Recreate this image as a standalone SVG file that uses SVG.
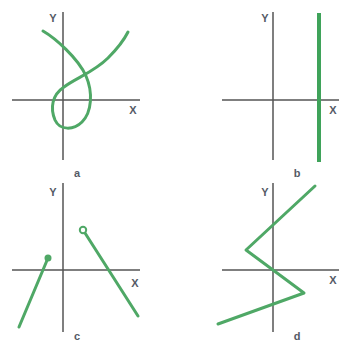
<svg xmlns="http://www.w3.org/2000/svg" width="339" height="341" viewBox="0 0 339 341">
<style>
.ax{stroke:#555;stroke-width:1.5;fill:none}
.g{stroke:#4fa866;stroke-width:3;fill:none;stroke-linecap:round;stroke-linejoin:round}
.t{font-family:"Liberation Sans",Arial,sans-serif;font-weight:bold;font-size:11px;fill:#555a66;text-anchor:middle}
</style>
<rect width="339" height="341" fill="#fff"/>
<g id="panel-a">
<line class="ax" x1="63" y1="12" x2="63" y2="160"/>
<line class="ax" x1="12" y1="100" x2="140" y2="100"/>
<text class="t" x="53" y="22">Y</text>
<text class="t" x="133" y="114">X</text>
<text class="t" x="77" y="177">a</text>
<path class="g" d="M43,31 C55,38 78,58 86,76 C93,92 92,112 82,122 C74,130 60,131 55,120 C50,108 52,95 64,87 C76,78 94,72 108,58 C118,48 124,40 128,32"/>
</g>
<g id="panel-b">
<line class="ax" x1="273" y1="12" x2="273" y2="160"/>
<line class="ax" x1="222" y1="100" x2="339" y2="100"/>
<text class="t" x="333" y="114">X</text>
<text class="t" x="265" y="22">Y</text>
<text class="t" x="297" y="177">b</text>
<line x1="319" y1="13" x2="319" y2="162" stroke="#3fa35a" stroke-width="4"/>
</g>
<g id="panel-c">
<line class="ax" x1="63" y1="183" x2="63" y2="332"/>
<line class="ax" x1="12" y1="270" x2="140" y2="270"/>
<text class="t" x="53" y="196">Y</text>
<text class="t" x="135" y="287">X</text>
<text class="t" x="77" y="340">c</text>
<line class="g" x1="48" y1="258" x2="19" y2="327"/>
<circle cx="48" cy="258" r="3.5" fill="#4fa866"/>
<line class="g" x1="85" y1="233" x2="138" y2="316"/>
<circle cx="83" cy="230" r="3.2" fill="#fff" stroke="#4fa866" stroke-width="2"/>
</g>
<g id="panel-d">
<line class="ax" x1="273" y1="183" x2="273" y2="332"/>
<line class="ax" x1="222" y1="270" x2="339" y2="270"/>
<text class="t" x="265" y="196">Y</text>
<text class="t" x="333" y="284">X</text>
<text class="t" x="297" y="340">d</text>
<polyline class="g" points="315,186 246,250 273,270 304,293 218,324"/>
</g>
</svg>
